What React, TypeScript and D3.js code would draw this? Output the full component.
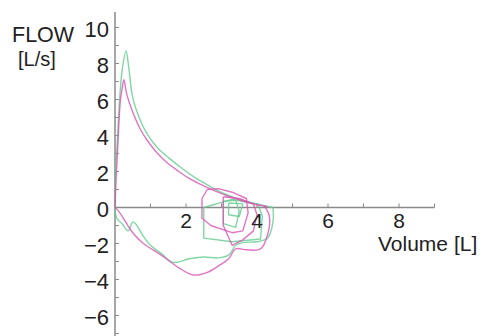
import { useMemo } from 'react';
import * as d3 from 'd3';

type Pt = [number, number];

// volume [L], flow [L/s]
const greenExp: Pt[] = [
  [0, 0], [0, 1.5], [0.06, 3.5], [0.14, 6.3], [0.2, 7.6], [0.31, 8.7], [0.38, 7.9],
  [0.5, 6.1], [0.7, 4.9], [0.9, 4.1], [1.2, 3.3], [1.55, 2.7], [1.9, 2.15], [2.3, 1.6],
  [2.7, 1.15], [3.1, 0.75], [3.5, 0.45], [3.9, 0.25], [4.2, 0.1], [4.45, 0.0],
];
const greenInsp: Pt[] = [
  [0, 0], [0.05, -0.6], [0.2, -0.9], [0.37, -1.3], [0.5, -0.8], [0.58, -0.9],
  [0.8, -1.6], [1.0, -2.1], [1.3, -2.55], [1.63, -3.05], [2.1, -2.85], [2.5, -2.75],
  [2.9, -2.8], [3.2, -2.65], [3.4, -2.1], [3.6, -1.95], [4.0, -1.9], [4.3, -1.7],
  [4.45, -0.8], [4.45, 0.0],
];
const greenTidalA: Pt[] = [
  [3.9, 0.2], [3.3, 0.45], [2.5, 0.0], [2.5, -1.7], [3.3, -1.9], [4.1, -1.75],
  [4.15, -0.5], [4.05, 0.1],
];
const greenTidalB: Pt[] = [
  [3.05, 0.35], [3.05, -0.9], [3.4, -1.1], [3.5, -0.2], [3.4, 0.4], [3.05, 0.35],
];
const greenTidalC: Pt[] = [
  [3.2, 0.25], [3.2, -0.4], [3.5, -0.5], [3.6, 0.2], [3.2, 0.25],
];

const magExp: Pt[] = [
  [0, 0], [0.03, 1.5], [0.08, 3.5], [0.15, 5.9], [0.2, 6.6], [0.25, 7.1], [0.33, 6.3],
  [0.48, 5.4], [0.7, 4.4], [0.9, 3.75], [1.2, 3.0], [1.46, 2.5], [1.8, 2.0], [2.1, 1.6],
  [2.5, 1.2], [2.9, 0.85], [3.3, 0.55], [3.7, 0.3], [4.0, 0.15], [4.3, 0.05],
];
const magInsp: Pt[] = [
  [0, 0], [0.1, -0.2], [0.3, -0.8], [0.5, -1.4], [0.8, -2.0], [1.27, -2.6],
  [1.8, -3.35], [2.2, -3.75], [2.6, -3.6], [2.95, -3.2], [3.2, -2.85], [3.4, -2.3],
  [3.7, -2.35], [4.1, -2.3], [4.3, -1.5], [4.35, -0.5], [4.2, 0.1],
];
const magTidalA: Pt[] = [
  [2.45, 0.5], [2.6, 1.0], [2.9, 1.05], [3.3, 0.85], [3.7, 0.5], [3.75, -0.3],
  [3.6, -1.3], [3.3, -1.4], [2.7, -1.0], [2.45, -0.6], [2.45, 0.5],
];
const magTidalB: Pt[] = [
  [3.05, 0.6], [3.5, 0.5], [3.9, 0.2], [4.0, -0.4], [3.9, -1.3], [3.6, -1.8],
  [3.3, -2.1], [3.05, -1.0], [3.05, 0.6],
];

const yTickLabels = [10, 8, 6, 4, 2, 0, -2, -4, -6];
const xTickLabels = [2, 4, 6, 8];

const GREEN = '#62cc8f';
const MAGENTA = '#db52b4';
const FONT = '"Liberation Sans", Arial, Helvetica, sans-serif';

export default function App() {
  const width = 493;
  const height = 336;

  const x = d3.scaleLinear().domain([0, 9]).range([115, 434.5]);
  const y = d3.scaleLinear().domain([0, 10]).range([207.5, 27.5]);

  // smooth for the forced curves, straight for the small tidal loops
  const smooth = useMemo(
    () => d3.line<Pt>().x(d => x(d[0])).y(d => y(d[1])).curve(d3.curveCatmullRom.alpha(0.5)),
    []
  );
  const straight = useMemo(() => d3.line<Pt>().x(d => x(d[0])).y(d => y(d[1])), []);

  const yTicks = d3.range(-7, 11);
  const xTicks = d3.range(1, 10);

  const traces: Array<[Pt[], string, boolean]> = [
    [greenExp, GREEN, true], [greenInsp, GREEN, true],
    [greenTidalA, GREEN, false], [greenTidalB, GREEN, false], [greenTidalC, GREEN, false],
    [magExp, MAGENTA, true], [magInsp, MAGENTA, true],
    [magTidalA, MAGENTA, false], [magTidalB, MAGENTA, false],
  ];

  const fmt = (v: number) => (v < 0 ? '\u2212' + Math.abs(v) : String(v));

  return (
    <svg
      width={width}
      height={height}
      style={{ position: 'absolute', left: 0, top: 0, background: '#fff' }}
      fontFamily={FONT}
    >
      {/* axes */}
      <line x1={x(0)} x2={x(0)} y1={12} y2={height} stroke="#8a8a8a" strokeWidth={1.5} />
      <line x1={x(0)} x2={x(9)} y1={y(0)} y2={y(0)} stroke="#8a8a8a" strokeWidth={1.5} />
      {yTicks.map(t => (
        <line key={'yt' + t} x1={x(0)} x2={x(0) + 4} y1={y(t)} y2={y(t)} stroke="#8a8a8a" strokeWidth={1} />
      ))}
      {xTicks.map(t => (
        <line key={'xt' + t} x1={x(t)} x2={x(t)} y1={y(0)} y2={y(0) - 4} stroke="#8a8a8a" strokeWidth={1} />
      ))}

      {/* curves */}
      {traces.map(([d, c, s], i) => (
        <path
          key={i}
          d={(s ? smooth(d) : straight(d)) || ''}
          fill="none"
          stroke={c}
          strokeWidth={1.4}
          strokeOpacity={0.8}
          strokeLinejoin="round"
        />
      ))}

      {/* labels */}
      {yTickLabels.map(t => (
        <text key={'yl' + t} x={109} y={y(t) + 1.5} dy="0.35em" textAnchor="end" fontSize={22} fill="#222">
          {fmt(t)}
        </text>
      ))}
      {xTickLabels.map(t => (
        <text key={'xl' + t} x={x(t)} y={228} textAnchor="middle" fontSize={21} fill="#222">
          {fmt(t)}
        </text>
      ))}
      <text x={12} y={41.5} fontSize={21.5} fill="#222">FLOW</text>
      <text x={18} y={66} fontSize={20} fill="#222">[L/s]</text>
      <text x={378} y={251} fontSize={21} fill="#222">Volume [L]</text>
    </svg>
  );
}
